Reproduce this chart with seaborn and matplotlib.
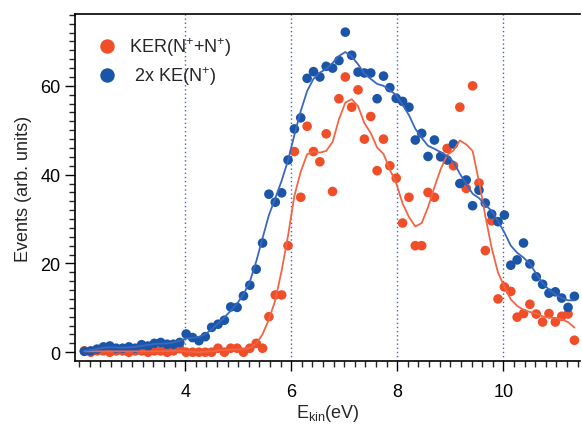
import numpy as np
import pandas as pd
import matplotlib
matplotlib.use("Agg")
import matplotlib.pyplot as plt
import seaborn as sns

# Kinetic energy bins (eV)
energy = [2.10, 2.22, 2.34, 2.46, 2.58, 2.70, 2.82, 2.94, 3.06, 3.18,
          3.30, 3.42, 3.54, 3.66, 3.78, 3.90, 4.02, 4.14, 4.26, 4.38,
          4.50, 4.62, 4.74, 4.86, 4.98, 5.10, 5.22, 5.34, 5.46, 5.58,
          5.70, 5.82, 5.94, 6.06, 6.18, 6.30, 6.42, 6.54, 6.66, 6.78,
          6.90, 7.02, 7.14, 7.26, 7.38, 7.50, 7.62, 7.74, 7.86, 7.98,
          8.10, 8.22, 8.34, 8.46, 8.58, 8.70, 8.82, 8.94, 9.06, 9.18,
          9.30, 9.42, 9.54, 9.66, 9.78, 9.90, 10.02, 10.14, 10.26, 10.38,
          10.50, 10.62, 10.74, 10.86, 10.98, 11.10, 11.22, 11.34]

# KER(N+ + N+)
ker = [0.3, 0.0, 0.3, 0.3, 0.0, 0.3, 0.3, 0.0, 0.3, 0.3,
       0.0, 0.3, 0.3, 0.0, 0.3, 0.8, 0.0, 0.0, 0.0, 0.0,
       0.0, 0.9, 0.0, 0.9, 0.9, 0.0, 0.9, 2.0, 0.9, 8.0,
       12.9, 12.9, 24.0, 45.2, 34.9, 50.9, 45.2, 42.9, 49.2, 36.2,
       57.1, 62.0, 55.2, 59.1, 48.0, 53.1, 40.9, 48.0, 42.0, 39.2,
       29.1, 34.9, 24.0, 24.0, 36.0, 34.9, 44.0, 45.9, 42.0, 55.2,
       36.9, 60.0, 38.1, 22.9, 29.6, 12.0, 14.7, 13.7, 7.9, 8.7,
       10.8, 8.6, 6.8, 8.7, 6.8, 8.1, 8.6, 2.7]

# 2x KE(N+)
ke2 = [0.2, 0.3, 0.7, 1.2, 1.4, 0.9, 0.9, 1.2, 0.9, 1.7,
       1.4, 2.0, 2.2, 1.8, 1.8, 2.2, 4.1, 3.3, 2.6, 3.5,
       5.6, 6.3, 7.2, 10.2, 10.1, 12.7, 15.1, 18.7, 24.6, 35.6,
       33.8, 35.9, 43.3, 50.3, 52.8, 61.7, 63.2, 62.0, 64.4, 64.0,
       65.7, 72.1, 66.9, 63.1, 62.9, 62.9, 57.1, 62.2, 59.6, 57.2,
       56.5, 55.2, 47.8, 49.3, 44.1, 47.8, 44.1, 43.3, 46.9, 38.0,
       38.8, 33.0, 36.5, 33.6, 31.1, 29.4, 30.9, 19.6, 20.8, 24.6,
       19.9, 17.0, 15.3, 13.3, 13.6, 12.2, 10.1, 12.6]

lab_ker = r"KER(N$^{+}$+N$^{+}$)"
lab_ke = r" 2x KE(N$^{+}$)"
red = "#F04E28"
blue = "#1A55A8"


def smooth(y):
    k = np.array([1, 2, 3, 2, 1], dtype=float)
    y = np.asarray(y, dtype=float)
    return np.convolve(y, k, "same") / np.convolve(np.ones_like(y), k, "same")


df = pd.DataFrame({
    "energy": energy * 2,
    "events": ker + ke2,
    "series": [lab_ker] * len(ker) + [lab_ke] * len(ke2),
})
df_s = pd.DataFrame({
    "energy": energy * 2,
    "events": list(smooth(ker)) + list(smooth(ke2)),
    "series": [lab_ker] * len(ker) + [lab_ke] * len(ke2),
})

sns.set_style("ticks")
plt.rcParams["font.family"] = ["Liberation Sans", "DejaVu Sans"]
plt.rcParams["mathtext.fontset"] = "custom"
plt.rcParams["mathtext.rm"] = "Liberation Sans"
plt.rcParams["mathtext.it"] = "Liberation Sans:italic"

fig = plt.figure(figsize=(5.82, 4.27), dpi=100)
ax = fig.add_axes([0.129, 0.152, 0.868, 0.813])

for xv in [4, 6, 8, 10]:
    ax.axvline(xv, color="#4A5FC8", lw=1.0, ls=(0, (1, 2)), zorder=1)

sns.scatterplot(data=df, x="energy", y="events", hue="series",
                hue_order=[lab_ke, lab_ker],
                palette={lab_ker: red, lab_ke: blue},
                s=48, linewidth=0, ax=ax, zorder=3)
sns.lineplot(data=df_s, x="energy", y="events", hue="series",
             palette={lab_ker: "#F26545", lab_ke: "#3A68C0"},
             lw=1.3, legend=False, ax=ax, zorder=4)

handles, labels = ax.get_legend_handles_labels()
order = [labels.index(lab_ker), labels.index(lab_ke)]
ax.legend([handles[i] for i in order], [labels[i] for i in order],
          loc="upper left", bbox_to_anchor=(0.01, 0.985), frameon=False,
          fontsize=13, markerscale=1.5, handletextpad=0.6,
          labelspacing=0.35, handlelength=1.2)

ax.set_xlim(1.925, 11.45)
ax.set_ylim(-2, 76.2)
ax.set_xticks([4, 6, 8, 10])
ax.set_yticks([0, 20, 40, 60])
ax.set_xticks(np.arange(2.0, 11.5, 0.2), minor=True)
ax.set_yticks(np.arange(0, 77, 2), minor=True)
ax.tick_params(axis="both", which="major", length=7, width=1, labelsize=13,
               direction="out", colors="black")
ax.tick_params(axis="both", which="minor", length=4.5, width=1,
               direction="out")
ax.tick_params(axis="x", pad=9)

ax.set_xlabel(r"E$_{\mathrm{kin}}$(eV)", fontsize=13, labelpad=1)
ax.set_ylabel("Events (arb. units)", fontsize=13, labelpad=6)

for side in ["left", "bottom", "top"]:
    ax.spines[side].set_visible(True)
    ax.spines[side].set_linewidth(1.2)
    ax.spines[side].set_color("black")
ax.spines["right"].set_visible(False)

fig.savefig("out.png", dpi=100)
